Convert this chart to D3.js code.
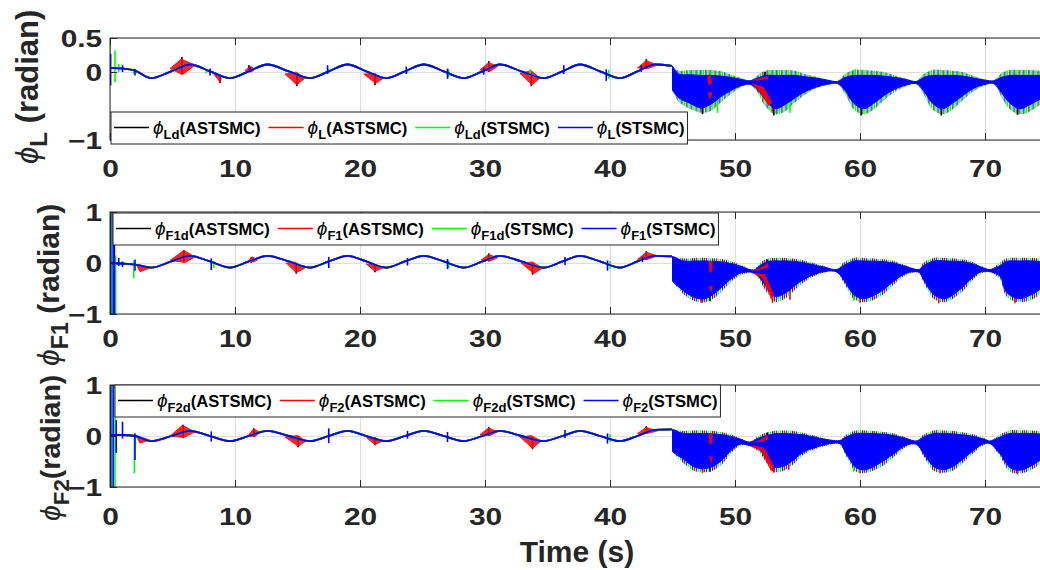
<!DOCTYPE html>
<html>
<head>
<meta charset="utf-8">
<script src="https://cdn.jsdelivr.net/npm/d3@7/dist/d3.min.js"></script>
<style>
  html, body { margin: 0; padding: 0; background: #ffffff; }
  svg { display: block; }
  text { font-family: "Liberation Sans", Arial, Helvetica, sans-serif; }
</style>
</head>
<body>
<svg id="chart" width="1040" height="570"></svg>
<script>
// ---------------- data ----------------
const timeTicks = [0, 10, 20, 30, 40, 50, 60, 70];
const controllers = ["ASTSMC", "ASTSMC", "STSMC", "STSMC"];
const seriesColors = ["#000000", "#ff0000", "#00ff00", "#0000ff"];

const ticksL = [-1, 0, 0.5];
const ticksF = [-1, 0, 1];

const subsL = ["Ld", "L", "Ld", "L"];
const subsF1 = ["F1d", "F1", "F1d", "F1"];
const subsF2 = ["F2d", "F2", "F2d", "F2"];

// knot times of the smooth tracking phase (s)
const knotTimes = [0, 1.0, 2.0, 3.3, 4.9, 6.4, 8.0, 9.6, 11.1, 12.6, 14.3, 16.0, 17.5, 19.0, 20.5,
  22.1, 23.6, 25.1, 26.7, 28.3, 29.8, 31.2, 32.9, 34.7, 36.2, 37.6, 39.2, 40.8, 42.2, 43.6, 44.95];

// angle (rad) at each knot
const trajL = [0.06, 0.05, 0.02, -0.09, 0.01, 0.11, 0.01, -0.09, 0.01, 0.11, 0.01, -0.09, 0.01, 0.11, 0.01,
  -0.09, 0.01, 0.11, 0.01, -0.09, 0.01, 0.11, 0.01, -0.09, 0.01, 0.11, 0.01, -0.09, 0.01, 0.11, 0.09];
const trajF1 = [0.0, -0.01, -0.03, -0.09, 0.03, 0.14, 0.03, -0.09, 0.03, 0.14, 0.03, -0.09, 0.03, 0.14, 0.03,
  -0.09, 0.03, 0.14, 0.03, -0.09, 0.03, 0.14, 0.03, -0.09, 0.03, 0.14, 0.03, -0.09, 0.03, 0.14, 0.13];
const trajF2 = [0.02, 0.02, 0.0, -0.10, 0.0, 0.10, 0.0, -0.10, 0.0, 0.10, 0.0, -0.10, 0.0, 0.10, 0.0,
  -0.10, 0.0, 0.10, 0.0, -0.10, 0.0, 0.10, 0.0, -0.10, 0.0, 0.10, 0.0, -0.10, 0.0, 0.12, 0.13];

// chattering phase after t = 45 s:
// [t, band upper, band lower, spike-tip upper, spike-tip lower]
const bandL = [
  [45.0, 0.09, -0.27, 0.09, -0.27], [45.5, -0.03, -0.38, 0.02, -0.44], [46.4, -0.04, -0.46, 0.03, -0.54],
  [47.3, -0.05, -0.53, 0.03, -0.60], [48.1, -0.05, -0.47, 0.03, -0.57], [48.9, -0.06, -0.36, 0.01, -0.44],
  [49.7, -0.08, -0.27, -0.04, -0.32], [50.5, -0.11, -0.20, -0.09, -0.22], [51.2, -0.13, -0.18, -0.12, -0.19],
  [51.8, -0.09, -0.26, -0.05, -0.30], [52.4, -0.05, -0.40, 0.02, -0.50], [53.2, -0.05, -0.54, 0.03, -0.62],
  [54.0, -0.05, -0.48, 0.03, -0.58], [54.8, -0.05, -0.38, 0.02, -0.45], [55.6, -0.07, -0.29, -0.03, -0.33],
  [56.5, -0.09, -0.22, -0.07, -0.24], [57.4, -0.12, -0.18, -0.11, -0.19], [58.2, -0.14, -0.17, -0.13, -0.18],
  [58.8, -0.08, -0.27, -0.03, -0.32], [59.5, -0.05, -0.46, 0.03, -0.55], [60.3, -0.05, -0.54, 0.03, -0.62],
  [61.1, -0.05, -0.46, 0.02, -0.55], [61.9, -0.06, -0.35, 0.0, -0.42], [62.8, -0.08, -0.25, -0.05, -0.29],
  [63.7, -0.11, -0.19, -0.10, -0.21], [64.5, -0.14, -0.17, -0.13, -0.18], [65.1, -0.08, -0.28, -0.03, -0.33],
  [65.8, -0.05, -0.46, 0.03, -0.55], [66.6, -0.05, -0.54, 0.03, -0.62], [67.4, -0.05, -0.46, 0.02, -0.55],
  [68.2, -0.06, -0.35, 0.0, -0.42], [69.1, -0.09, -0.24, -0.06, -0.28], [70.0, -0.12, -0.18, -0.11, -0.20],
  [70.7, -0.13, -0.17, -0.12, -0.18], [71.3, -0.08, -0.30, -0.02, -0.36], [72.0, -0.05, -0.46, 0.03, -0.55],
  [72.8, -0.05, -0.54, 0.03, -0.62], [73.6, -0.05, -0.48, 0.03, -0.58], [74.4, -0.05, -0.40, 0.02, -0.48],
  [75.5, -0.06, -0.33, 0.0, -0.40]
];
const bandF1 = [
  [45.0, 0.13, -0.36, 0.13, -0.36], [45.9, 0.04, -0.55, 0.09, -0.62], [46.8, 0.04, -0.68, 0.10, -0.75],
  [47.6, 0.04, -0.70, 0.10, -0.77], [48.5, 0.03, -0.57, 0.09, -0.66], [49.3, 0.01, -0.39, 0.06, -0.46],
  [50.4, -0.06, -0.20, -0.03, -0.24], [51.5, -0.14, -0.19, -0.13, -0.20], [52.0, -0.05, -0.30, 0.0, -0.36],
  [52.6, 0.03, -0.50, 0.09, -0.60], [53.2, 0.04, -0.66, 0.10, -0.76], [54.1, 0.04, -0.58, 0.10, -0.68],
  [54.9, 0.03, -0.42, 0.08, -0.50], [56.0, -0.02, -0.26, 0.02, -0.30], [57.1, -0.08, -0.17, -0.06, -0.19],
  [58.1, -0.13, -0.17, -0.12, -0.18], [58.7, -0.05, -0.33, 0.01, -0.38], [59.5, 0.04, -0.62, 0.10, -0.70],
  [60.3, 0.04, -0.70, 0.10, -0.77], [61.6, 0.03, -0.57, 0.08, -0.66], [62.7, 0.0, -0.36, 0.04, -0.42],
  [63.7, -0.07, -0.20, -0.05, -0.23], [64.7, -0.13, -0.18, -0.12, -0.19], [65.1, -0.05, -0.33, 0.01, -0.38],
  [65.9, 0.04, -0.62, 0.10, -0.70], [66.8, 0.04, -0.70, 0.10, -0.77], [68.0, 0.03, -0.52, 0.08, -0.60],
  [68.8, 0.0, -0.33, 0.04, -0.39], [69.6, -0.07, -0.18, -0.05, -0.21], [70.4, -0.13, -0.17, -0.12, -0.18],
  [71.2, -0.05, -0.26, 0.01, -0.32], [71.7, 0.03, -0.57, 0.09, -0.65], [72.7, 0.04, -0.70, 0.10, -0.77],
  [73.9, 0.04, -0.60, 0.10, -0.70], [74.4, 0.03, -0.52, 0.09, -0.62], [75.5, 0.02, -0.40, 0.07, -0.48]
];
const bandF2 = [
  [45.0, 0.13, -0.31, 0.13, -0.31], [45.9, 0.05, -0.46, 0.10, -0.54], [46.7, 0.05, -0.60, 0.11, -0.68],
  [47.5, 0.05, -0.64, 0.11, -0.71], [48.3, 0.04, -0.59, 0.10, -0.67], [49.1, 0.02, -0.44, 0.07, -0.52],
  [49.7, -0.01, -0.28, 0.03, -0.33], [50.4, -0.06, -0.16, -0.04, -0.19], [51.2, -0.12, -0.19, -0.11, -0.20],
  [52.0, -0.03, -0.28, 0.02, -0.34], [53.1, 0.04, -0.61, 0.10, -0.70], [53.9, 0.05, -0.59, 0.11, -0.68],
  [54.7, 0.04, -0.47, 0.10, -0.55], [55.5, 0.02, -0.31, 0.06, -0.36], [56.5, -0.03, -0.22, 0.0, -0.25],
  [57.6, -0.08, -0.15, -0.07, -0.17], [58.4, -0.09, -0.15, -0.08, -0.16], [58.9, -0.02, -0.35, 0.03, -0.40],
  [59.7, 0.05, -0.62, 0.11, -0.70], [60.5, 0.05, -0.66, 0.11, -0.72], [61.6, 0.04, -0.53, 0.09, -0.62],
  [62.7, 0.01, -0.35, 0.05, -0.41], [63.7, -0.05, -0.18, -0.03, -0.21], [64.5, -0.10, -0.16, -0.09, -0.17],
  [65.1, -0.02, -0.35, 0.03, -0.40], [65.9, 0.05, -0.60, 0.11, -0.68], [66.7, 0.05, -0.66, 0.11, -0.72],
  [67.5, 0.04, -0.59, 0.10, -0.67], [68.3, 0.02, -0.44, 0.07, -0.51], [69.1, -0.01, -0.28, 0.03, -0.33],
  [69.9, -0.06, -0.15, -0.04, -0.18], [70.4, -0.10, -0.15, -0.09, -0.16], [71.2, -0.02, -0.35, 0.03, -0.40],
  [72.0, 0.05, -0.62, 0.11, -0.70], [72.8, 0.05, -0.67, 0.11, -0.73], [73.6, 0.05, -0.60, 0.11, -0.68],
  [74.4, 0.04, -0.48, 0.10, -0.56], [75.5, 0.03, -0.38, 0.08, -0.45]
];

// red chattering bursts in the tracking phase: outline points [t, angle]
const burstsL = [
  [[4.8, 0.05], [5.7, 0.19], [6.8, 0.10], [5.8, -0.04]],
  [[8.3, -0.03], [8.8, -0.04], [8.9, -0.10], [8.8, -0.15]],
  [[10.8, 0.02], [11.2, 0.09], [11.6, 0.04], [11.3, 0.0]],
  [[14.0, -0.03], [14.9, 0.0], [15.6, -0.09], [14.95, -0.19]],
  [[20.3, -0.03], [21.2, -0.02], [21.8, -0.10], [21.25, -0.17]],
  [[29.6, 0.03], [30.3, 0.14], [31.0, 0.08], [30.4, 0.01]],
  [[32.8, -0.02], [33.7, 0.02], [34.4, -0.09], [33.75, -0.19]],
  [[42.2, 0.06], [42.9, 0.17], [43.8, 0.10], [43.0, 0.05]]
];
const burstsF1 = [
  [[2.1, -0.03], [2.6, -0.05], [3.2, -0.10], [2.4, -0.17]],
  [[4.8, 0.05], [5.9, 0.25], [6.8, 0.12], [6.0, 0.01]],
  [[11.0, 0.03], [11.4, 0.12], [11.8, 0.06], [11.5, 0.02]],
  [[14.1, 0.0], [14.8, 0.02], [15.6, -0.10], [14.9, -0.19]],
  [[20.5, -0.02], [21.2, -0.03], [21.8, -0.10], [21.2, -0.16]],
  [[29.7, 0.06], [30.3, 0.17], [31.0, 0.10], [30.4, 0.04]],
  [[32.9, 0.0], [33.8, 0.02], [34.6, -0.10], [33.9, -0.21]],
  [[42.2, 0.07], [42.9, 0.21], [43.8, 0.14], [43.0, 0.07]]
];
const burstsF2 = [
  [[2.1, 0.0], [2.6, -0.03], [3.2, -0.08], [2.4, -0.14]],
  [[4.8, 0.0], [5.8, 0.21], [6.8, 0.08], [5.9, -0.03]],
  [[11.0, 0.0], [11.5, 0.14], [12.0, 0.07], [11.6, -0.01]],
  [[14.0, -0.02], [15.0, 0.01], [15.7, -0.10], [15.05, -0.20]],
  [[20.5, -0.03], [21.2, -0.03], [21.8, -0.10], [21.2, -0.17]],
  [[29.6, 0.03], [30.3, 0.16], [31.0, 0.08], [30.4, 0.01]],
  [[32.8, -0.02], [33.7, 0.01], [34.5, -0.10], [33.8, -0.24]],
  [[42.2, 0.05], [42.9, 0.17], [43.8, 0.10], [43.0, 0.05]]
];

// isolated spikes: [series, t, low, high]
const spikesL = [
  [2, 0.0, -0.05, 0.5], [3, 0.05, -0.2, 0.27], [2, 0.4, -0.15, 0.32], [2, 0.7, 0.0, 0.12], [3, 1.0, 0.0, 0.1],
  [2, 1.9, -0.03, 0.05], [3, 2.0, -0.05, 0.04], [0, 5.75, -0.03, 0.22], [2, 7.7, -0.02, 0.05], [3, 8.0, -0.05, 0.05],
  [0, 8.8, -0.16, -0.04], [0, 11.1, 0.0, 0.1], [3, 11.2, 0.0, 0.07], [0, 14.95, -0.21, -0.04], [3, 17.4, -0.03, 0.1],
  [2, 17.5, -0.02, 0.05], [0, 21.2, -0.19, -0.03], [3, 23.7, -0.03, 0.08], [2, 23.8, -0.02, 0.05], [3, 27.0, -0.1, 0.05],
  [2, 27.1, -0.08, 0.04], [0, 30.3, 0.0, 0.16], [3, 29.9, -0.04, 0.07], [0, 33.7, -0.21, -0.02], [2, 33.6, -0.06, 0.04],
  [3, 36.3, -0.03, 0.1], [3, 39.7, -0.13, 0.04], [2, 39.9, -0.1, 0.03], [0, 42.9, 0.05, 0.19], [3, 42.5, 0.0, 0.1]
];
const spikesF1 = [
  [3, 0.05, -1, 1], [2, 0.1, -1, 1], [3, 0.25, -1, 1], [2, 0.45, -1, 0.15], [3, 0.35, -1, 1], [3, 0.7, -0.06, 0.1],
  [3, 1.0, -0.08, 0.03], [2, 1.9, -0.3, 0.05], [3, 2.0, -0.15, 0.07], [0, 5.9, 0.02, 0.25], [3, 8.1, -0.14, 0.09],
  [2, 8.3, -0.1, 0.04], [0, 11.3, 0.0, 0.12], [0, 14.9, -0.21, 0.0], [3, 17.5, -0.1, 0.12], [0, 21.2, -0.18, -0.03],
  [3, 23.8, -0.05, 0.1], [3, 27.0, -0.12, 0.08], [2, 27.1, -0.1, 0.05], [0, 30.3, 0.03, 0.19], [0, 33.8, -0.23, 0.0],
  [3, 36.4, -0.04, 0.12], [3, 39.8, -0.15, 0.05], [2, 40.0, -0.12, 0.04], [0, 42.9, 0.06, 0.23], [3, 42.6, 0.02, 0.13]
];
const spikesF2 = [
  [3, 0.05, -1, 1], [2, 0.1, -1, 1], [3, 0.25, -1, 1], [2, 0.4, -1, 1], [3, 0.5, -0.33, 0.31], [3, 1.0, -0.05, 0.28],
  [2, 1.95, -0.73, 0.05], [3, 2.0, -0.47, 0.05], [0, 5.85, -0.04, 0.22], [3, 8.1, -0.11, 0.09], [0, 11.5, -0.02, 0.15],
  [0, 15.05, -0.22, 0.0], [3, 17.5, -0.14, 0.15], [0, 21.2, -0.18, -0.03], [3, 23.8, -0.05, 0.1], [3, 27.0, -0.12, 0.08],
  [0, 30.3, 0.0, 0.18], [0, 33.8, -0.26, -0.02], [3, 36.4, -0.04, 0.12], [3, 39.8, -0.15, 0.05], [2, 40.0, -0.12, 0.04],
  [0, 42.9, 0.04, 0.19]
];

// red regions visible inside the chattering band: outline points [t, angle]
const bandMarksL = [
  [[51.3, -0.16], [52.3, -0.22], [53.0, -0.45], [52.7, -0.50], [52.0, -0.30]],
  [[51.3, -0.13], [52.0, -0.09], [52.7, -0.06], [52.6, -0.10], [52.0, -0.12]],
  [[47.8, -0.05], [48.1, -0.05], [48.15, -0.17], [47.85, -0.20]],
  [[47.8, -0.30], [48.2, -0.30], [48.0, -0.42]]
];
const bandMarksF1 = [
  [[51.3, -0.19], [52.4, -0.22], [53.1, -0.60], [52.9, -0.72], [52.2, -0.30]],
  [[51.4, -0.15], [52.0, -0.10], [52.6, 0.0], [52.7, -0.08], [52.0, -0.14]],
  [[47.9, 0.04], [48.2, 0.04], [48.2, -0.15], [47.95, -0.20]],
  [[47.9, -0.45], [48.2, -0.45], [48.1, -0.60]]
];
const bandMarksF2 = [
  [[51.2, -0.18], [52.3, -0.22], [53.1, -0.58], [52.9, -0.70], [52.1, -0.30]],
  [[51.3, -0.13], [52.0, -0.08], [52.6, 0.02], [52.7, -0.06], [52.0, -0.12]],
  [[47.9, 0.05], [48.2, 0.05], [48.2, -0.12], [47.95, -0.18]],
  [[47.9, -0.40], [48.2, -0.40], [48.1, -0.56]]
];

// spikes poking out of the chattering band: [series, t, low, high]
const bandSpikesL = [
  [0, 47.4, -0.62, -0.4], [0, 53.1, -0.64, -0.4], [0, 60.1, -0.64, -0.4], [0, 66.5, -0.64, -0.4], [0, 72.6, -0.63, -0.4],
  [1, 53.0, -0.58, -0.4], [2, 48.6, -0.60, -0.4], [2, 54.4, -0.60, -0.4], [0, 52.4, -0.1, 0.0], [2, 59.6, -0.1, 0.04]
];
const bandSpikesF1 = [
  [1, 53.0, -0.78, -0.5], [1, 54.4, -0.72, -0.5], [1, 60.0, -0.78, -0.55], [1, 66.3, -0.79, -0.55], [1, 72.4, -0.79, -0.55],
  [1, 47.3, -0.78, -0.55], [0, 48.0, -0.75, -0.5], [2, 59.5, -0.74, -0.5], [0, 52.6, -0.1, 0.07]
];
const bandSpikesF2 = [
  [1, 53.1, -0.72, -0.45], [1, 54.3, -0.66, -0.45], [1, 60.0, -0.73, -0.5], [1, 66.4, -0.73, -0.5], [1, 72.6, -0.75, -0.5],
  [1, 47.4, -0.72, -0.5], [0, 48.0, -0.70, -0.5], [2, 59.5, -0.70, -0.5], [0, 52.6, -0.1, 0.07]
];

// ---------------- layout ----------------
const svg = d3.select("#chart");
const axisColor = "#262626";
const gridColor = "#dedede";
const plotLeft = 110, pxPerSecond = 12.5, xMax = 80;
const x = d3.scaleLinear().domain([0, xMax]).range([plotLeft, plotLeft + xMax * pxPerSecond]);

const panels = [
  { top: 38, bottom: 140, yDomain: [-1, 0.5], yTicks: ticksL, traj: trajL, band: bandL, bursts: burstsL,
    spikes: spikesL, marks: bandMarksL, bandSpikes: bandSpikesL, subs: subsL, labelSub: "L", labelGap: " ",
    legendX: 111, legendY: 112, labelX: 38, labelY: 164, labelSize: 31, tickLabelDy: 37, edge: "edgeA" },
  { top: 212, bottom: 314, yDomain: [-1, 1], yTicks: ticksF, traj: trajF1, band: bandF1, bursts: burstsF1,
    spikes: spikesF1, marks: bandMarksF1, bandSpikes: bandSpikesF1, subs: subsF1, labelSub: "F1", labelGap: " ",
    legendX: 113, legendY: 213, labelX: 59, labelY: 366, labelSize: 30, tickLabelDy: 33, edge: "edgeB" },
  { top: 385, bottom: 487, yDomain: [-1, 1], yTicks: ticksF, traj: trajF2, band: bandF2, bursts: burstsF2,
    spikes: spikesF2, marks: bandMarksF2, bandSpikes: bandSpikesF2, subs: subsF2, labelSub: "F2", labelGap: "",
    legendX: 115, legendY: 385, labelX: 60, labelY: 521, labelSize: 28.5, tickLabelDy: 38, edge: "edgeB" }
];

// striped paint for the spiky fringe of the chattering band
const defs = svg.append("defs");
function stripePattern(id, stripes, period) {
  const p = defs.append("pattern").attr("id", id).attr("patternUnits", "userSpaceOnUse")
    .attr("width", period).attr("height", 40);
  stripes.forEach(s => p.append("rect").attr("x", s[0]).attr("y", 0).attr("width", s[1]).attr("height", 40).attr("fill", s[2]));
}
stripePattern("edgeA", [[0, 1.2, "#00ff00"], [2.3, 1.0, "#000000"], [4.2, 1.1, "#00ff00"], [6.3, 1.0, "#0000ff"], [7.8, 1.1, "#00dd00"]], 9.5);
stripePattern("edgeB", [[0, 1.2, "#00ff00"], [2.2, 1.0, "#000000"], [3.9, 1.1, "#ff0000"], [5.8, 1.0, "#0000ff"], [7.6, 1.1, "#00ff00"]], 10);

panels.forEach((p, pi) => {
  const y = d3.scaleLinear().domain(p.yDomain).range([p.bottom, p.top]);
  const g = svg.append("g");
  const height = p.bottom - p.top;
  const xRight = x.range()[1];

  // grid
  g.append("g").attr("transform", `translate(0,${p.bottom})`)
    .call(d3.axisBottom(x).tickValues(timeTicks).tickSize(-height).tickFormat(""))
    .call(a => a.select(".domain").remove())
    .call(a => a.selectAll("line").attr("stroke", gridColor).attr("stroke-width", 1));
  g.append("g").attr("transform", `translate(${plotLeft},0)`)
    .call(d3.axisLeft(y).tickValues(p.yTicks).tickSize(-(xRight - plotLeft)).tickFormat(""))
    .call(a => a.select(".domain").remove())
    .call(a => a.selectAll("line").attr("stroke", gridColor).attr("stroke-width", 1));

  // data
  const clipId = "clip" + pi;
  defs.append("clipPath").attr("id", clipId)
    .append("rect").attr("x", plotLeft).attr("y", p.top).attr("width", xRight - plotLeft).attr("height", height);
  const data = g.append("g").attr("clip-path", `url(#${clipId})`);

  const trajPts = knotTimes.map((t, i) => [t, p.traj[i]]);
  const lineGen = d3.line().x(d => x(d[0])).y(d => y(d[1])).curve(d3.curveMonotoneX);
  const polyGen = d3.line().x(d => x(d[0])).y(d => y(d[1])).curve(d3.curveLinearClosed);
  const bandGen = d3.area().x(d => x(d[0])).y0(d => y(d[2])).y1(d => y(d[1])).curve(d3.curveCatmullRom);
  const upperFringe = d3.area().x(d => x(d[0])).y0(d => y(d[1])).y1(d => y(d[3])).curve(d3.curveCatmullRom);
  const lowerFringe = d3.area().x(d => x(d[0])).y0(d => y(d[4])).y1(d => y(d[2])).curve(d3.curveCatmullRom);

  // spiky fringe of the chattering band
  data.append("path").attr("d", lowerFringe(p.band)).attr("fill", `url(#${p.edge})`);
  data.append("path").attr("d", upperFringe(p.band)).attr("fill", `url(#${p.edge})`);
  data.append("g").selectAll("line").data(p.bandSpikes).join("line")
    .attr("x1", d => x(d[1])).attr("x2", d => x(d[1]))
    .attr("y1", d => y(d[2])).attr("y2", d => y(d[3]))
    .attr("stroke", d => seriesColors[d[0]]).attr("stroke-width", 1.6);

  // series drawn in plotting order: black, red, green, blue
  seriesColors.forEach((c, s) => {
    if (s === 1) {
      data.append("g").selectAll("path").data(p.bursts).join("path")
        .attr("d", d => polyGen(d)).attr("fill", c).attr("fill-opacity", 0.85)
        .attr("stroke", c).attr("stroke-width", 0.8);
    }
    data.append("g").selectAll("line").data(p.spikes.filter(d => d[0] === s)).join("line")
      .attr("x1", d => x(d[1])).attr("x2", d => x(d[1]))
      .attr("y1", d => y(d[2])).attr("y2", d => y(d[3]))
      .attr("stroke", c).attr("stroke-width", 1.6);
    data.append("path").attr("d", lineGen(trajPts)).attr("fill", "none")
      .attr("stroke", c).attr("stroke-width", 1.8);
  });

  // chattering band (blue on top)
  data.append("path").attr("d", bandGen(p.band)).attr("fill", "#0000ff").attr("stroke", "#0000ff").attr("stroke-width", 1);
  data.append("g").selectAll("path").data(p.marks).join("path")
    .attr("d", d => polyGen(d)).attr("fill", "#ff0000").attr("opacity", 0.9);

  // axes box and ticks
  g.append("rect").attr("x", plotLeft).attr("y", p.top).attr("width", xRight - plotLeft).attr("height", height)
    .attr("fill", "none").attr("stroke", axisColor).attr("stroke-width", 1);

  const xAxis = g.append("g").attr("transform", `translate(0,${p.bottom})`)
    .call(d3.axisBottom(x).tickValues(timeTicks).tickSizeInner(-7).tickSizeOuter(0).tickPadding(0));
  xAxis.select(".domain").remove();
  xAxis.selectAll("line").attr("stroke", axisColor);
  xAxis.selectAll("text").attr("y", p.tickLabelDy).attr("dy", 0)
    .attr("transform", "scale(1.3,1)")
    .attr("font-size", 23).attr("font-weight", "bold").attr("fill", axisColor)
    .attr("font-family", "'Liberation Sans', Arial, sans-serif");

  const xTop = g.append("g").attr("transform", `translate(0,${p.top})`)
    .call(d3.axisTop(x).tickValues(timeTicks).tickSizeInner(-7).tickSizeOuter(0).tickFormat(""));
  xTop.select(".domain").remove();
  xTop.selectAll("line").attr("stroke", axisColor);

  const yAxis = g.append("g").attr("transform", `translate(${plotLeft},0)`)
    .call(d3.axisLeft(y).tickValues(p.yTicks).tickSizeInner(-7).tickSizeOuter(0).tickPadding(6)
      .tickFormat(d => d3.format("")(d)));
  yAxis.select(".domain").remove();
  yAxis.selectAll("line").attr("stroke", axisColor);
  yAxis.selectAll("text").attr("dy", "0.36em")
    .attr("transform", "scale(1.3,1)")
    .attr("font-size", 23).attr("font-weight", "bold").attr("fill", axisColor)
    .attr("font-family", "'Liberation Sans', Arial, sans-serif");

  // y label
  const lab = g.append("text")
    .attr("transform", `translate(${p.labelX},${p.labelY}) rotate(-90)`)
    .attr("font-size", p.labelSize).attr("font-weight", "bold").attr("fill", axisColor);
  lab.append("tspan").attr("font-style", "italic").attr("font-weight", "normal").text("ϕ");
  lab.append("tspan").attr("font-size", p.labelSize * 0.78).attr("dy", p.labelSize * 0.3).text(p.labelSub);
  lab.append("tspan").attr("dy", -p.labelSize * 0.3).text(p.labelGap + "(radian)");

  // legend
  const lg = g.append("g");
  const box = lg.append("rect");
  const midY = p.legendY + 15.5;
  let cx = p.legendX + 3;
  seriesColors.forEach((c, i) => {
    lg.append("line").attr("x1", cx).attr("x2", cx + 35).attr("y1", midY).attr("y2", midY)
      .attr("stroke", c).attr("stroke-width", 1.3);
    const t = lg.append("text").attr("x", cx + 39).attr("y", midY + 6)
      .attr("font-size", 16.6).attr("font-weight", "bold").attr("fill", "#000");
    t.append("tspan").attr("font-style", "italic").attr("font-weight", "normal").attr("font-size", 19).text("ϕ");
    t.append("tspan").attr("font-size", 13).attr("dy", 5).text(p.subs[i]);
    t.append("tspan").attr("dy", -5).text("(" + controllers[i] + ")");
    cx += 39 + t.node().getComputedTextLength() + 8;
  });
  box.attr("x", p.legendX).attr("y", p.legendY).attr("width", cx - 5 - p.legendX).attr("height", 32)
    .attr("fill", "#ffffff").attr("stroke", axisColor).attr("stroke-width", 1);
});

// x label
svg.append("text").attr("x", 577).attr("y", 562).attr("text-anchor", "middle")
  .attr("font-size", 30).attr("font-weight", "bold").attr("fill", axisColor).text("Time (s)");
</script>
</body>
</html>
